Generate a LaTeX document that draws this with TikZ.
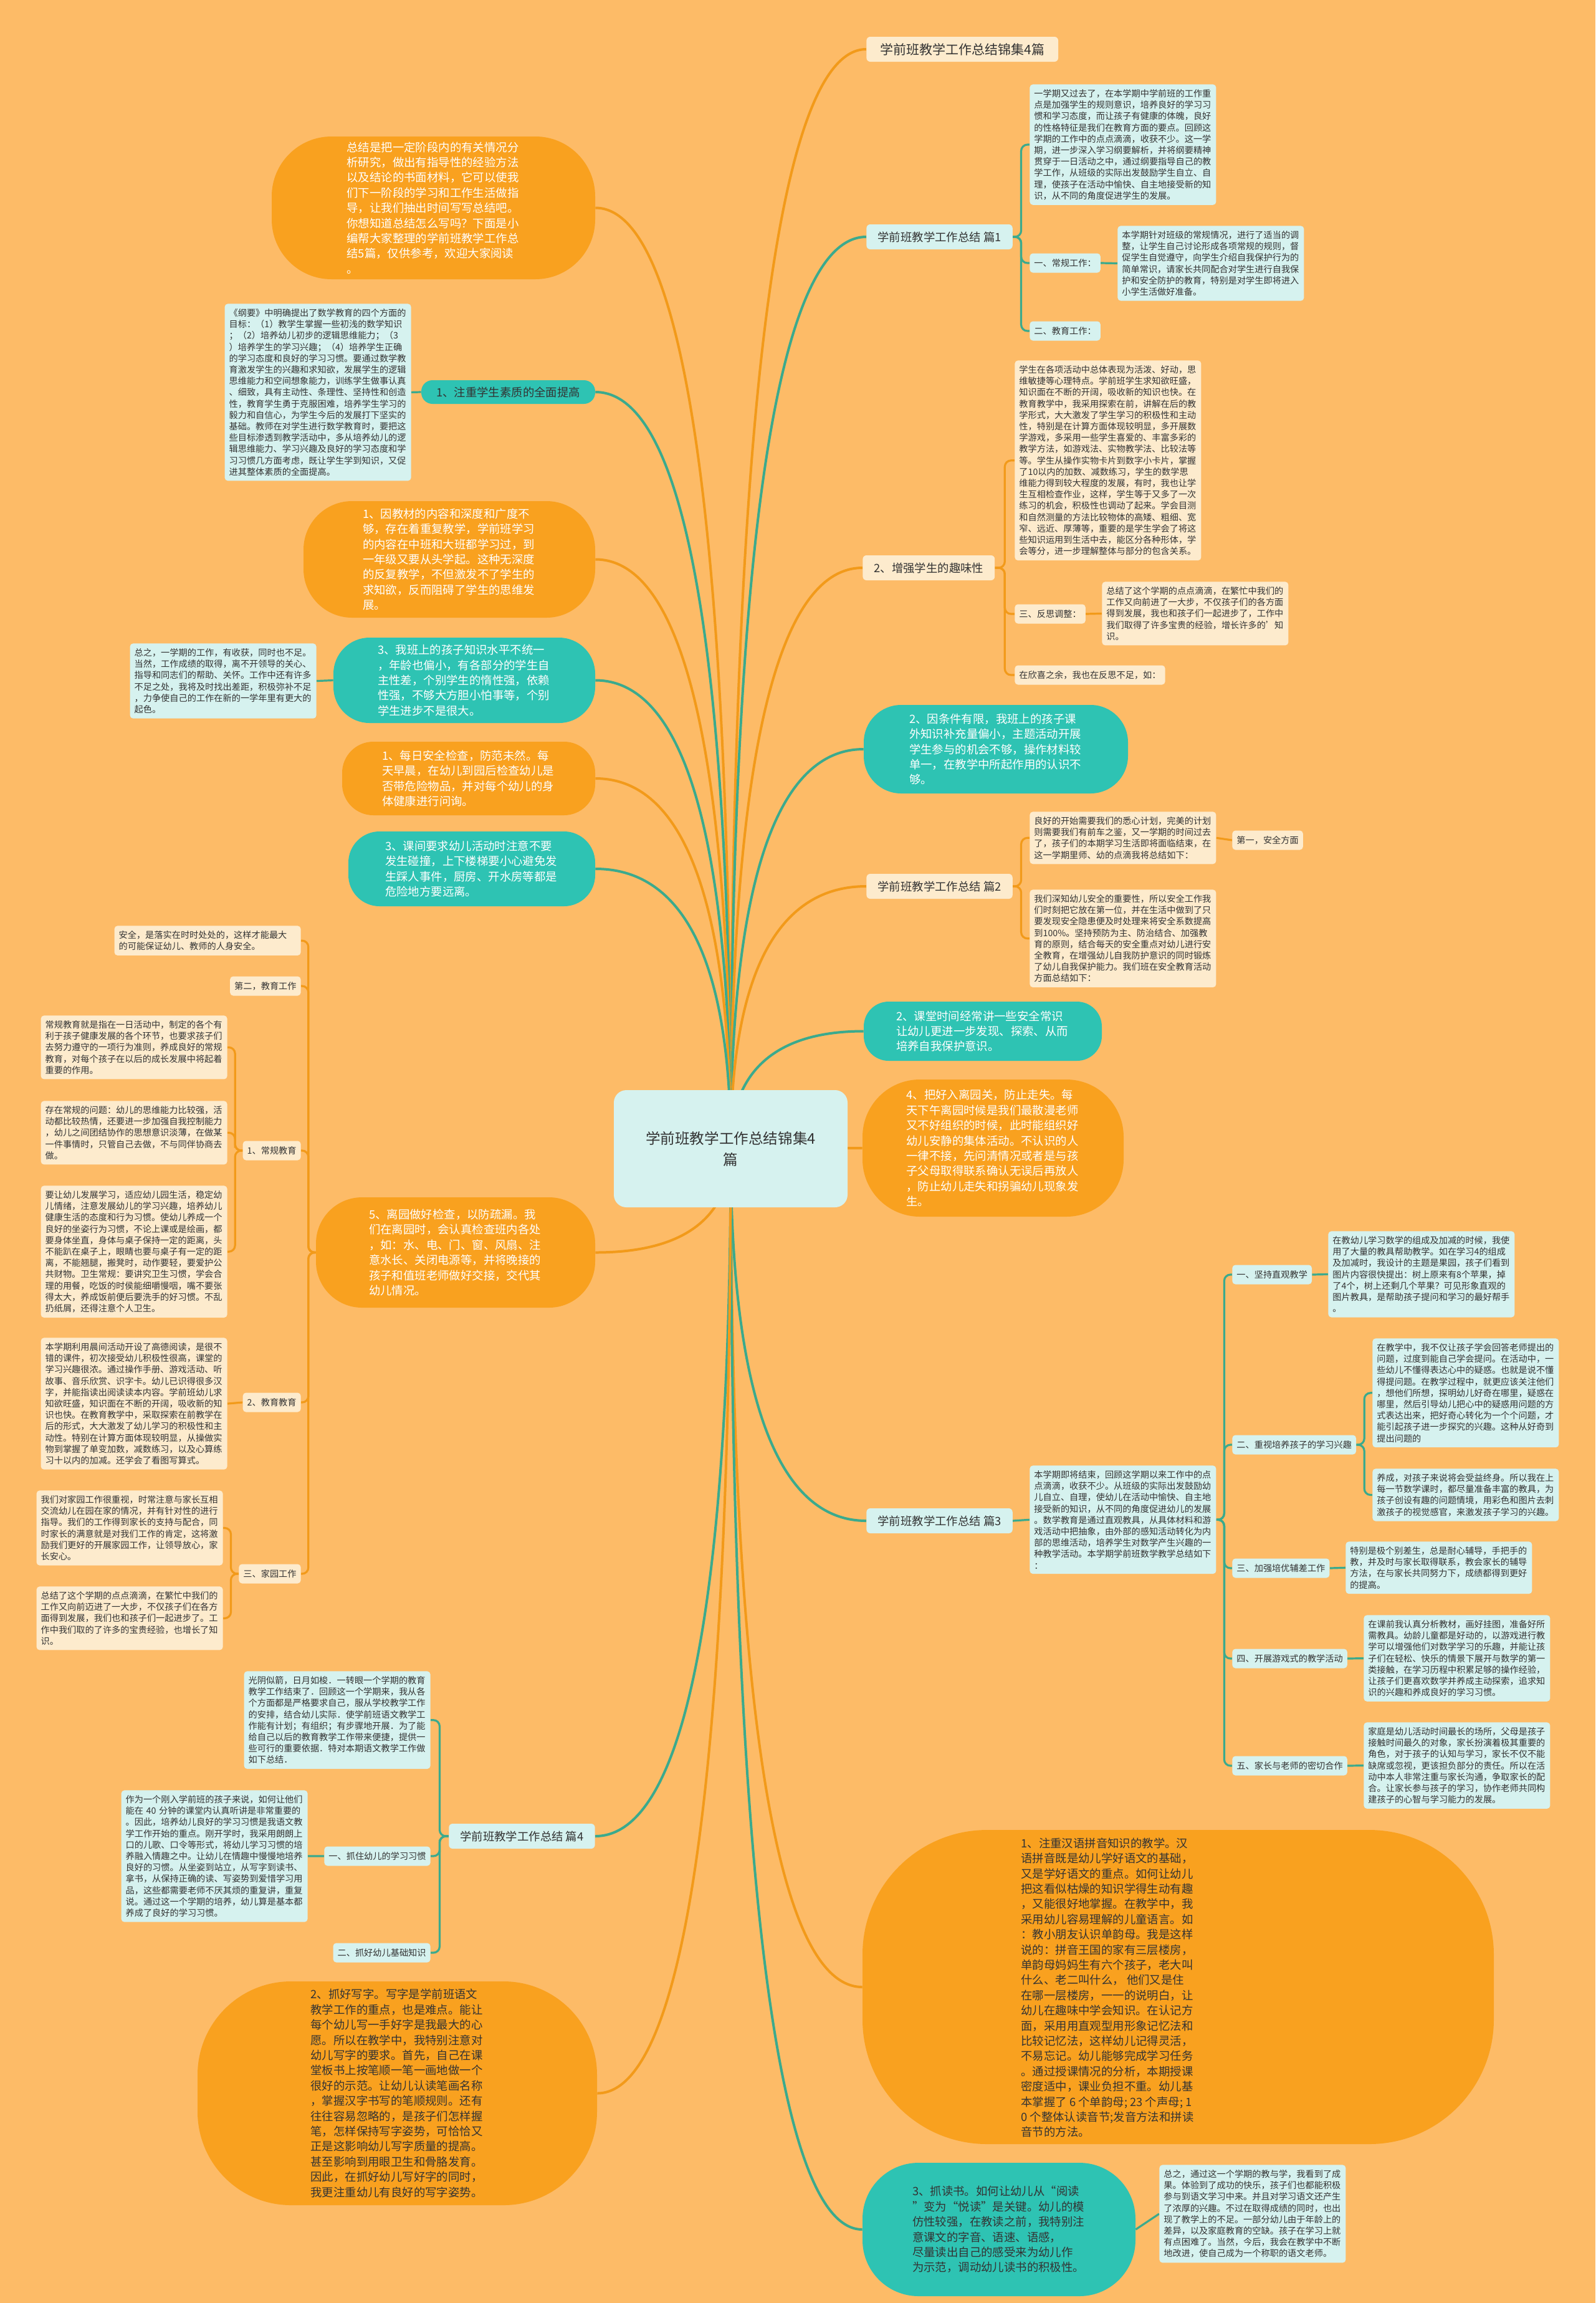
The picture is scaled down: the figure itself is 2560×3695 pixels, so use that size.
\documentclass[tikz,border=0pt]{standalone}
\usepackage{fontspec}
\setmainfont{Noto Sans CJK SC}
\usetikzlibrary{calc}
\pgfdeclarelayer{bg}
\pgfdeclarelayer{lines}
\pgfsetlayers{bg,lines,main}
\definecolor{bgor}{HTML}{FDBB67}
\definecolor{bubor}{HTML}{F9A11F}
\definecolor{bubteal}{HTML}{2EC3B3}
\definecolor{paleteal}{HTML}{D6F2EF}
\definecolor{cream}{HTML}{FDEBCD}
\definecolor{lineteal}{HTML}{3BAA8D}
\definecolor{lineor}{HTML}{F29A1A}
\definecolor{txt}{HTML}{333333}
\newcommand\fleaf{\fontsize{7.1pt}{9.1pt}\selectfont}
\newcommand\fbub{\fontsize{9.2pt}{12.2pt}\selectfont}
\newcommand\flab{\fontsize{9.2pt}{11pt}\selectfont}
\newcommand\ftop{\fontsize{10.5pt}{12pt}\selectfont}
\newcommand\froot{\fontsize{11.8pt}{17pt}\selectfont}
\newcommand\connR[3]{\draw[#1,elb] (#2.east) -| ($(#2.east)!0.5!(#3.west)$) |- (#3.west);}
\newcommand\connL[3]{\draw[#1,elb] (#2.west) -| ($(#2.west)!0.5!(#3.east)$) |- (#3.east);}
\newcommand\rootR[2]{\draw[#1,rootln] (R.center) .. controls ($(R.center)!0.66!(R.center|-#2.west)$) and ($(#2.west)!0.66!(R.center|-#2.west)$) .. (#2.west);}
\newcommand\rootL[2]{\draw[#1,rootln] (R.center) .. controls ($(R.center)!0.66!(R.center|-#2.east)$) and ($(#2.east)!0.66!(R.center|-#2.east)$) .. (#2.east);}
\tikzset{
  lnT/.style={draw=lineteal,line width=1.6pt},
  lnO/.style={draw=lineor,line width=1.6pt},
  elb/.style={rounded corners=5pt},
  rootln/.style={line width=2pt},
  rootnode/.style={fill=paleteal,rounded corners=10pt,minimum width=187.5pt,minimum height=94pt,align=center,font=\froot,text=txt,inner sep=0pt},
  leaf/.style={rounded corners=2.5pt,inner xsep=3.5pt,inner ysep=4pt,text width=142.5pt,align=left,font=\fleaf,text=txt},
  leafT/.style={leaf,fill=paleteal},
  leafO/.style={leaf,fill=cream},
  lab/.style={rounded corners=2.5pt,inner xsep=3.5pt,inner ysep=0pt,minimum height=15.5pt,font=\fleaf,text=txt},
  labT/.style={lab,fill=paleteal},
  labO/.style={lab,fill=cream},
  top/.style={rounded corners=3pt,inner xsep=9pt,inner ysep=0pt,minimum height=20pt,font=\flab,text=txt},
  topT/.style={top,fill=paleteal},
  topO/.style={top,fill=cream},
  bub/.style={inner sep=0pt,align=left,font=\fbub,text width=139pt},
  bubO/.style={bub,fill=bubor,text=white},
  bubT/.style={bub,fill=bubteal,text=white},
}
\begin{document}
\begin{tikzpicture}[x=0.5pt,y=-0.5pt]
\useasboundingbox (0,0) rectangle (2560,3695);
\begin{pgfonlayer}{bg}
\fill[bgor] (0,0) rectangle (2560,3695);
\end{pgfonlayer}

% ---------- root ----------
\node[rootnode] (R) at (1172.5,1843) {学前班教学工作总结锦集4\\篇};

% ---------- right level 1 ----------
\node[topO,anchor=west,font=\ftop,inner xsep=11pt] (T0) at (1390,79) {学前班教学工作总结锦集4篇};
\node[topT,anchor=west] (P1) at (1390,380) {学前班教学工作总结 篇1};
\node[topO,anchor=west] (Z2) at (1384,911) {2、增强学生的趣味性};
\node[bubT,minimum width=212pt,minimum height=71pt,rounded corners=30pt] (B2) at (1598,1202) {2、因条件有限，我班上的孩子课\\外知识补充量偏小，主题活动开展\\学生参与的机会不够，操作材料较\\单一，在教学中所起作用的认识不\\够。};
\node[topO,anchor=west] (P2) at (1390,1422) {学前班教学工作总结 篇2};
\node[bubT,minimum width=191pt,minimum height=47.5pt,rounded corners=20pt] (B3) at (1577,1654.5) {2、课堂时间经常讲一些安全常识\\让幼儿更进一步发现、探索、从而\\培养自我保护意识。};
\node[bubO,minimum width=209.5pt,minimum height=110pt,rounded corners=46pt] (B4) at (1593.5,1842) {4、把好入离园关，防止走失。每\\天下午离园时候是我们最散漫老师\\又不好组织的时候，此时能组织好\\幼儿安静的集体活动。不认识的人\\一律不接，先问清情况或者是与孩\\子父母取得联系确认无误后再放人\\，防止幼儿走失和拐骗幼儿现象发\\生。};
\node[topT,anchor=west] (P3) at (1390,2440) {学前班教学工作总结 篇3};
\node[fill=bubor,minimum width=506.5pt,minimum height=252pt,rounded corners=100pt,inner sep=0pt] (B5) at (1890.5,3188) {};
\node[inner sep=0pt,align=left,font=\fbub,text=txt,anchor=west] (B5t) at (1638,3189) {1、注重汉语拼音知识的教学。汉\\语拼音既是幼儿学好语文的基础，\\又是学好语文的重点。如何让幼儿\\把这看似枯燥的知识学得生动有趣\\，又能很好地掌握。在教学中，我\\采用幼儿容易理解的儿童语言。如\\：教小朋友认识单韵母。我是这样\\说的：拼音王国的家有三层楼房，\\单韵母妈妈生有六个孩子，老大叫\\什么、老二叫什么， 他们又是住\\在哪一层楼房，一一的说明白，让\\幼儿在趣味中学会知识。在认记方\\面，采用用直观型用形象记忆法和\\比较记忆法，这样幼儿记得灵活，\\不易忘记。幼儿能够完成学习任务\\。通过授课情况的分析，本期授课\\密度适中，课业负担不重。幼儿基\\本掌握了 6 个单韵母; 23 个声母; 1\\0 个整体认读音节;发音方法和拼读\\音节的方法。};
\node[bubT,text=txt,minimum width=219pt,minimum height=107pt,rounded corners=45pt] (B6) at (1603,3577) {3、抓读书。如何让幼儿从“阅读\\”变为“悦读”是关键。幼儿的模\\仿性较强，在教读之前，我特别注\\意课文的字音、语速、语感，\\尽量读出自己的感受来为幼儿作\\为示范，调动幼儿读书的积极性。};

% ---------- left level 1 ----------
\node[bubO,minimum width=259.5pt,minimum height=114.5pt,rounded corners=48pt] (L1) at (695.5,333.5) {总结是把一定阶段内的有关情况分\\析研究，做出有指导性的经验方法\\以及结论的书面材料，它可以使我\\们下一阶段的学习和工作生活做指\\导，让我们抽出时间写写总结吧。\\你想知道总结怎么写吗？下面是小\\编帮大家整理的学前班教学工作总\\结5篇，仅供参考，欢迎大家阅读\\。};
\node[fill=bubteal,text=txt,font=\flab,minimum width=139.5pt,minimum height=19pt,rounded corners=9pt,inner sep=0pt] (L2) at (815.5,629) {1、注重学生素质的全面提高};
\node[bubO,minimum width=234pt,minimum height=93.5pt,rounded corners=39pt] (L3) at (721,897.5) {1、因教材的内容和深度和广度不\\够，存在着重复教学，学前班学习\\的内容在中班和大班都学习过，到\\一年级又要从头学起。这种无深度\\的反复教学，不但激发不了学生的\\求知欲，反而阻碍了学生的思维发\\展。};
\node[bubT,minimum width=210pt,minimum height=68.5pt,rounded corners=29pt] (L4) at (745,1091.5) {3、我班上的孩子知识水平不统一\\，年龄也偏小，有各部分的学生自\\主性差，个别学生的惰性强，依赖\\性强，不够大方胆小怕事等，个别\\学生进步不是很大。};
\node[bubO,minimum width=203pt,minimum height=59pt,rounded corners=25pt] (L5) at (752,1249) {1、每日安全检查，防范未然。每\\天早晨，在幼儿到园后检查幼儿是\\否带危险物品，并对每个幼儿的身\\体健康进行问询。};
\node[bubT,minimum width=198pt,minimum height=60pt,rounded corners=25pt] (L6) at (757,1394) {3、课间要求幼儿活动时注意不要\\发生碰撞，上下楼梯要小心避免发\\生踩人事件，厨房、开水房等都是\\危险地方要远离。};
\node[bubO,minimum width=224pt,minimum height=88.5pt,rounded corners=37pt] (L7) at (731,2009.5) {5、离园做好检查，以防疏漏。我\\们在离园时，会认真检查班内各处\\，如：水、电、门、窗、风扇、注\\意水长、关闭电源等，并将晚接的\\孩子和值班老师做好交接，交代其\\幼儿情况。};
\node[topT,anchor=east] (P4) at (955,2946) {学前班教学工作总结 篇4};
\node[bubO,text=txt,minimum width=320.5pt,minimum height=179.5pt,rounded corners=75pt] (L9) at (637.5,3358.5) {2、抓好写字。写字是学前班语文\\教学工作的重点，也是难点。能让\\每个幼儿写一手好字是我最大的心\\愿。所以在教学中，我特别注意对\\幼儿写字的要求。首先，自己在课\\堂板书上按笔顺一笔一画地做一个\\很好的示范。让幼儿认读笔画名称\\，掌握汉字书写的笔顺规则。还有\\往往容易忽略的，是孩子们怎样握\\笔，怎样保持写字姿势，可恰恰又\\正是这影响幼儿写字质量的提高。\\甚至影响到用眼卫生和骨胳发育。\\因此，在抓好幼儿写好字的同时，\\我更注重幼儿有良好的写字姿势。};

% ---------- right leaves ----------
\node[leafT,anchor=north west] (P1a) at (1652,135) {一学期又过去了，在本学期中学前班的工作重\\点是加强学生的规则意识，培养良好的学习习\\惯和学习态度，而让孩子有健康的体魄，良好\\的性格特征是我们在教育方面的要点。回顾这\\学期的工作中的点点滴滴，收获不少。这一学\\期，进一步深入学习纲要解析，并将纲要精神\\贯穿于一日活动之中，通过纲要指导自己的教\\学工作，从班级的实际出发鼓励学生自立、自\\理，使孩子在活动中愉快、自主地接受新的知\\识，从不同的角度促进学生的发展。};
\node[labT,anchor=west] (P1b) at (1652,422) {一、常规工作：};
\node[leafT,anchor=north west] (P1c) at (1793,362) {本学期针对班级的常规情况，进行了适当的调\\整，让学生自己讨论形成各项常规的规则，督\\促学生自觉遵守，向学生介绍自我保护行为的\\简单常识，请家长共同配合对学生进行自我保\\护和安全防护的教育，特别是对学生即将进入\\小学生活做好准备。};
\node[labT,anchor=west] (P1d) at (1652,531) {二、教育工作：};

\node[leafO,anchor=north west] (Z2a) at (1628,578) {学生在各项活动中总体表现为活泼、好动，思\\维敏捷等心理特点。学前班学生求知欲旺盛，\\知识面在不断的开阔，吸收新的知识也快。在\\教育教学中，我采用探索在前，讲解在后的教\\学形式，大大激发了学生学习的积极性和主动\\性，特别是在计算方面体现较明显，多开展数\\学游戏，多采用一些学生喜爱的、丰富多彩的\\教学方法，如游戏法、实物教学法、比较法等\\等。学生从操作实物卡片到数字小卡片，掌握\\了10以内的加数、减数练习，学生的数学思\\维能力得到较大程度的发展，有时，我也让学\\生互相检查作业，这样，学生等于又多了一次\\练习的机会，积极性也调动了起来。学会目测\\和自然测量的方法比较物体的高矮、粗细、宽\\窄、远近、厚薄等，重要的是学生学会了将这\\些知识运用到生活中去，能区分各种形体，学\\会等分，进一步理解整体与部分的包含关系。};
\node[labO,anchor=west] (Z2b) at (1628,985) {三、反思调整：};
\node[leafO,anchor=north west] (Z2c) at (1768,933) {总结了这个学期的点点滴滴，在繁忙中我们的\\工作又向前进了一大步，不仅孩子们的各方面\\得到发展，我也和孩子们一起进步了，工作中\\我们取得了许多宝贵的经验，增长许多的'知\\识。};
\node[labO,anchor=west] (Z2d) at (1628,1083) {在欣喜之余，我也在反思不足，如：};

\node[leafO,anchor=north west] (P2a) at (1652,1302) {良好的开始需要我们的悉心计划，完美的计划\\则需要我们有前车之鉴，又一学期的时间过去\\了，孩子们的本期学习生活即将面临结束，在\\这一学期里师、幼的点滴我将总结如下：};
\node[labO,anchor=west] (P2b) at (1977,1348) {第一，安全方面};
\node[leafO,anchor=north west] (P2c) at (1652,1427) {我们深知幼儿安全的重要性，所以安全工作我\\们时刻把它放在第一位，并在生活中做到了只\\要发现安全隐患便及时处理来将安全系数提高\\到100\%。坚持预防为主、防治结合、加强教\\育的原则，结合每天的安全重点对幼儿进行安\\全教育，在增强幼儿自我防护意识的同时锻炼\\了幼儿自我保护能力。我们班在安全教育活动\\方面总结如下：};

\node[leafT,anchor=north west] (P3a) at (1652,2351) {本学期即将结束，回顾这学期以来工作中的点\\点滴滴，收获不少。从班级的实际出发鼓励幼\\儿自立、自理，使幼儿在活动中愉快、自主地\\接受新的知识，从不同的角度促进幼儿的发展\\。数学教育是通过直观教具，从具体材料和游\\戏活动中把抽象，由外部的感知活动转化为内\\部的思维活动，培养学生对数学产生兴趣的一\\种教学活动。本学期学前班数学教学总结如下\\：};
\node[labT,anchor=west] (P3b) at (1977,2045) {一、坚持直观教学};
\node[labT,anchor=west] (P3c) at (1977,2318) {二、重视培养孩子的学习兴趣};
\node[labT,anchor=west] (P3d) at (1977,2516) {三、加强培优辅差工作};
\node[labT,anchor=west] (P3e) at (1977,2661) {四、开展游戏式的教学活动};
\node[labT,anchor=west] (P3f) at (1977,2833) {五、家长与老师的密切合作};
\node[leafT,anchor=north west] (P3b1) at (2131,1975) {在教幼儿学习数学的组成及加减的时候，我使\\用了大量的教具帮助教学。如在学习4的组成\\及加减时，我设计的主题是果园，孩子们看到\\图片内容很快提出：树上原来有8个苹果，掉\\了4个，树上还剩几个苹果？可见形象直观的\\图片教具，是帮助孩子提问和学习的最好帮手\\。};
\node[leafT,anchor=north west] (P3c1) at (2202,2147) {在教学中，我不仅让孩子学会回答老师提出的\\问题，过度到能自己学会提问。在活动中，一\\些幼儿不懂得表达心中的疑惑。也就是说不懂\\得提问题。在教学过程中，就更应该关注他们\\，想他们所想，探明幼儿好奇在哪里，疑惑在\\哪里，然后引导幼儿把心中的疑惑用问题的方\\式表达出来，把好奇心转化为一个个问题，才\\能引起孩子进一步探究的兴趣。这种从好奇到\\提出问题的};
\node[leafT,anchor=north west] (P3c2) at (2202,2356) {养成，对孩子来说将会受益终身。所以我在上\\每一节数学课时，都尽量准备丰富的教具，为\\孩子创设有趣的问题情境，用彩色和图片去刺\\激孩子的视觉感官，来激发孩子学习的兴趣。};
\node[leafT,anchor=north west] (P3d1) at (2159,2473) {特别是极个别差生，总是耐心辅导，手把手的\\教，并及时与家长取得联系，教会家长的辅导\\方法，在与家长共同努力下，成绩都得到更好\\的提高。};
\node[leafT,anchor=north west] (P3e1) at (2188,2591) {在课前我认真分析教材，画好挂图，准备好所\\需教具。幼龄儿童都是好动的，以游戏进行教\\学可以增强他们对数学学习的乐趣，并能让孩\\子们在轻松、快乐的情景下展开与数学的第一\\类接触，在学习历程中积累足够的操作经验，\\让孩子们更喜欢数学并养成主动探索，追求知\\识的兴趣和养成良好的学习习惯。};
\node[leafT,anchor=north west] (P3f1) at (2188,2763) {家庭是幼儿活动时间最长的场所，父母是孩子\\接触时间最久的对象，家长扮演着极其重要的\\角色，对于孩子的认知与学习，家长不仅不能\\缺席或忽视，更该担负部分的责任。所以在活\\动中本人非常注重与家长沟通，争取家长的配\\合。让家长参与孩子的学习，协作老师共同构\\建孩子的心智与学习能力的发展。};

\node[leafT,anchor=north west] (B6a) at (1860,3473) {总之，通过这一个学期的教与学，我看到了成\\果。体验到了成功的快乐，孩子们也都能积极\\参与到语文学习中来。并且对学习语文还产生\\了浓厚的兴趣。不过在取得成绩的同时，也出\\现了教学上的不足。一部分幼儿由于年龄上的\\差异，以及家庭教育的空缺。孩子在学习上就\\有点困难了。当然，今后，我会在教学中不断\\地改进，使自己成为一个称职的语文老师。};

% ---------- left leaves ----------
\node[leafT,anchor=north east] (L2a) at (660,487) {《纲要》中明确提出了数学教育的四个方面的\\目标：（1）教学生掌握一些初浅的数学知识\\；（2）培养幼儿初步的逻辑思维能力；（3\\）培养学生的学习兴趣；（4）培养学生正确\\的学习态度和良好的学习习惯。要通过数学教\\育激发学生的兴趣和求知欲，发展学生的逻辑\\思维能力和空间想象能力，训练学生做事认真\\、细致，具有主动性、条理性、坚持性和创造\\性，教育学生勇于克服困难，培养学生学习的\\毅力和自信心，为学生今后的发展打下坚实的\\基础。教师在对学生进行数学教育时，要把这\\些目标渗透到教学活动中，多从培养幼儿的逻\\辑思维能力、学习兴趣及良好的学习态度和学\\习习惯几方面考虑，既让学生学到知识，又促\\进其整体素质的全面提高。};
\node[leafT,anchor=north east] (L4a) at (508,1032) {总之，一学期的工作，有收获，同时也不足。\\当然，工作成绩的取得，离不开领导的关心、\\指导和同志们的帮助、关怀。工作中还有许多\\不足之处，我将及时找出差距，积极弥补不足\\，力争使自己的工作在新的一学年里有更大的\\起色。};

\node[leafO,anchor=north east] (L7a) at (483,1485) {安全，是落实在时时处处的，这样才能最大\\的可能保证幼儿、教师的人身安全。};
\node[labO,anchor=east] (L7b) at (483,1582) {第二，教育工作};
\node[labO,anchor=east] (L7c) at (483,1846) {1、常规教育};
\node[leafO,anchor=north east] (L7c1) at (365,1629) {常规教育就是指在一日活动中，制定的各个有\\利于孩子健康发展的各个环节，也要求孩子们\\去努力遵守的一项行为准则，养成良好的常规\\教育，对每个孩子在以后的成长发展中将起着\\重要的作用。};
\node[leafO,anchor=north east] (L7c2) at (365,1766) {存在常规的问题：幼儿的思维能力比较强，活\\动都比较热情，还要进一步加强自我控制能力\\，幼儿之间团结协作的思想意识淡薄，在做某\\一件事情时，只管自己去做，不与同伴协商去\\做。};
\node[leafO,anchor=north east] (L7c3) at (365,1902) {要让幼儿发展学习，适应幼儿园生活，稳定幼\\儿情绪，注意发展幼儿的学习兴趣，培养幼儿\\健康生活的态度和行为习惯。使幼儿养成一个\\良好的坐姿行为习惯，不论上课或是绘画，都\\要身体坐直，身体与桌子保持一定的距离，头\\不能趴在桌子上，眼睛也要与桌子有一定的距\\离，不能翘腿，搬凳时，动作要轻，要爱护公\\共财物。卫生常规：要讲究卫生习惯，学会合\\理的用餐，吃饭的时侯能细嚼慢咽，嘴不要张\\得太大，养成饭前便后要洗手的好习惯。不乱\\扔纸屑，还得注意个人卫生。};
\node[labO,anchor=east] (L7d) at (483,2250) {2、教育教育};
\node[leafO,anchor=north east] (L7d1) at (365,2146) {本学期利用晨间活动开设了高德阅读，是很不\\错的课件，初次接受幼儿积极性很高，课堂的\\学习兴趣很浓。通过操作手册、游戏活动、听\\故事、音乐欣赏、识字卡。幼儿已识得很多汉\\字，并能指读出阅读读本内容。学前班幼儿求\\知欲旺盛，知识面在不断的开阔，吸收新的知\\识也快。在教育教学中，采取探索在前教学在\\后的形式，大大激发了幼儿学习的积极性和主\\动性。特别在计算方面体现较明显，从操做实\\物到掌握了单变加数，减数练习，以及心算练\\习十以内的加减。还学会了看图写算式。};
\node[labO,anchor=east] (L7e) at (483,2525) {三、家园工作};
\node[leafO,anchor=north east] (L7e1) at (358,2391) {我们对家园工作很重视，时常注意与家长互相\\交流幼儿在园在家的情况，并有针对性的进行\\指导。我们的工作得到家长的支持与配合，同\\时家长的满意就是对我们工作的肯定，这将激\\励我们更好的开展家园工作，让领导放心，家\\长安心。};
\node[leafO,anchor=north east] (L7e2) at (358,2545) {总结了这个学期的点点滴滴，在繁忙中我们的\\工作又向前迈进了一大步，不仅孩子们在各方\\面得到发展，我们也和孩子们一起进步了。工\\作中我们取的了许多的宝贵经验，也增长了知\\识。};

\node[leafT,anchor=north east] (P4a) at (691,2681) {光阴似箭，日月如梭．一转眼一个学期的教育\\教学工作结束了．回顾这一个学期来，我从各\\个方面都是严格要求自己，服从学校教学工作\\的安排，结合幼儿实际．使学前班语文教学工\\作能有计划；有组织；有步骤地开展．为了能\\给自己以后的教育教学工作带来便捷，提供一\\些可行的重要依据．特对本期语文教学工作做\\如下总结．};
\node[labT,anchor=east] (P4b) at (691,2978) {一、抓住幼儿的学习习惯};
\node[leafT,anchor=north east] (P4b1) at (494,2872) {作为一个刚入学前班的孩子来说，如何让他们\\能在 40 分钟的课堂内认真听讲是非常重要的\\。因此，培养幼儿良好的学习习惯是我语文教\\学工作开始的重点。刚开学时，我采用朗朗上\\口的儿歌、口令等形式，将幼儿学习习惯的培\\养融入情趣之中。让幼儿在情趣中慢慢地培养\\良好的习惯。从坐姿到站立，从写字到读书、\\拿书，从保持正确的读、写姿势到爱惜学习用\\品，这些都需要老师不厌其烦的重复讲，重复\\说。通过这一个学期的培养，幼儿算是基本都\\养成了良好的学习习惯。};
\node[labT,anchor=east] (P4c) at (691,3133) {二、抓好幼儿基础知识};

% ---------- connectors ----------
\begin{pgfonlayer}{lines}
\rootR{lnO}{T0}
\rootR{lnT}{P1}
\rootR{lnO}{Z2}
\rootR{lnT}{B2}
\rootR{lnO}{P2}
\rootR{lnT}{B3}
\rootR{lnO}{B4}
\rootR{lnT}{P3}
\rootR{lnO}{B5}
\rootR{lnT}{B6}
\rootL{lnO}{L1}
\rootL{lnT}{L2}
\rootL{lnO}{L3}
\rootL{lnT}{L4}
\rootL{lnO}{L5}
\rootL{lnT}{L6}
\rootL{lnO}{L7}
\rootL{lnT}{P4}
\rootL{lnO}{L9}

\connR{lnT}{P1}{P1a}
\connR{lnT}{P1}{P1b}
\connR{lnT}{P1}{P1d}
\draw[lnT] (P1b.east) -- (P1c.west);
\connR{lnO}{Z2}{Z2a}
\connR{lnO}{Z2}{Z2b}
\connR{lnO}{Z2}{Z2d}
\draw[lnO] (Z2b.east) -- (Z2c.west);
\connR{lnO}{P2}{P2a}
\connR{lnO}{P2}{P2c}
\draw[lnO] (P2a.east) -- (P2b.west);
\draw[lnT] (P3.east) -- (P3a.west);
\connR{lnT}{P3a}{P3b}
\connR{lnT}{P3a}{P3c}
\connR{lnT}{P3a}{P3d}
\connR{lnT}{P3a}{P3e}
\connR{lnT}{P3a}{P3f}
\draw[lnT] (P3b.east) -- (P3b1.west);
\connR{lnT}{P3c}{P3c1}
\connR{lnT}{P3c}{P3c2}
\draw[lnT] (P3d.east) -- (P3d1.west);
\draw[lnT] (P3e.east) -- (P3e1.west);
\draw[lnT] (P3f.east) -- (P3f1.west);
\draw[lnT] (B6.east) -- (B6a.west);

\draw[lnT] (L2.west) -- (L2a.east);
\draw[lnT] (L4.west) -- (L4a.east);
\connL{lnO}{L7}{L7a}
\connL{lnO}{L7}{L7b}
\connL{lnO}{L7}{L7c}
\connL{lnO}{L7}{L7d}
\connL{lnO}{L7}{L7e}
\connL{lnO}{L7c}{L7c1}
\connL{lnO}{L7c}{L7c2}
\connL{lnO}{L7c}{L7c3}
\draw[lnO] (L7d.west) -- (L7d1.east);
\connL{lnO}{L7e}{L7e1}
\connL{lnO}{L7e}{L7e2}
\connL{lnT}{P4}{P4a}
\connL{lnT}{P4}{P4b}
\connL{lnT}{P4}{P4c}
\draw[lnT] (P4b.west) -- (P4b1.east);
\end{pgfonlayer}
\end{tikzpicture}
\end{document}
